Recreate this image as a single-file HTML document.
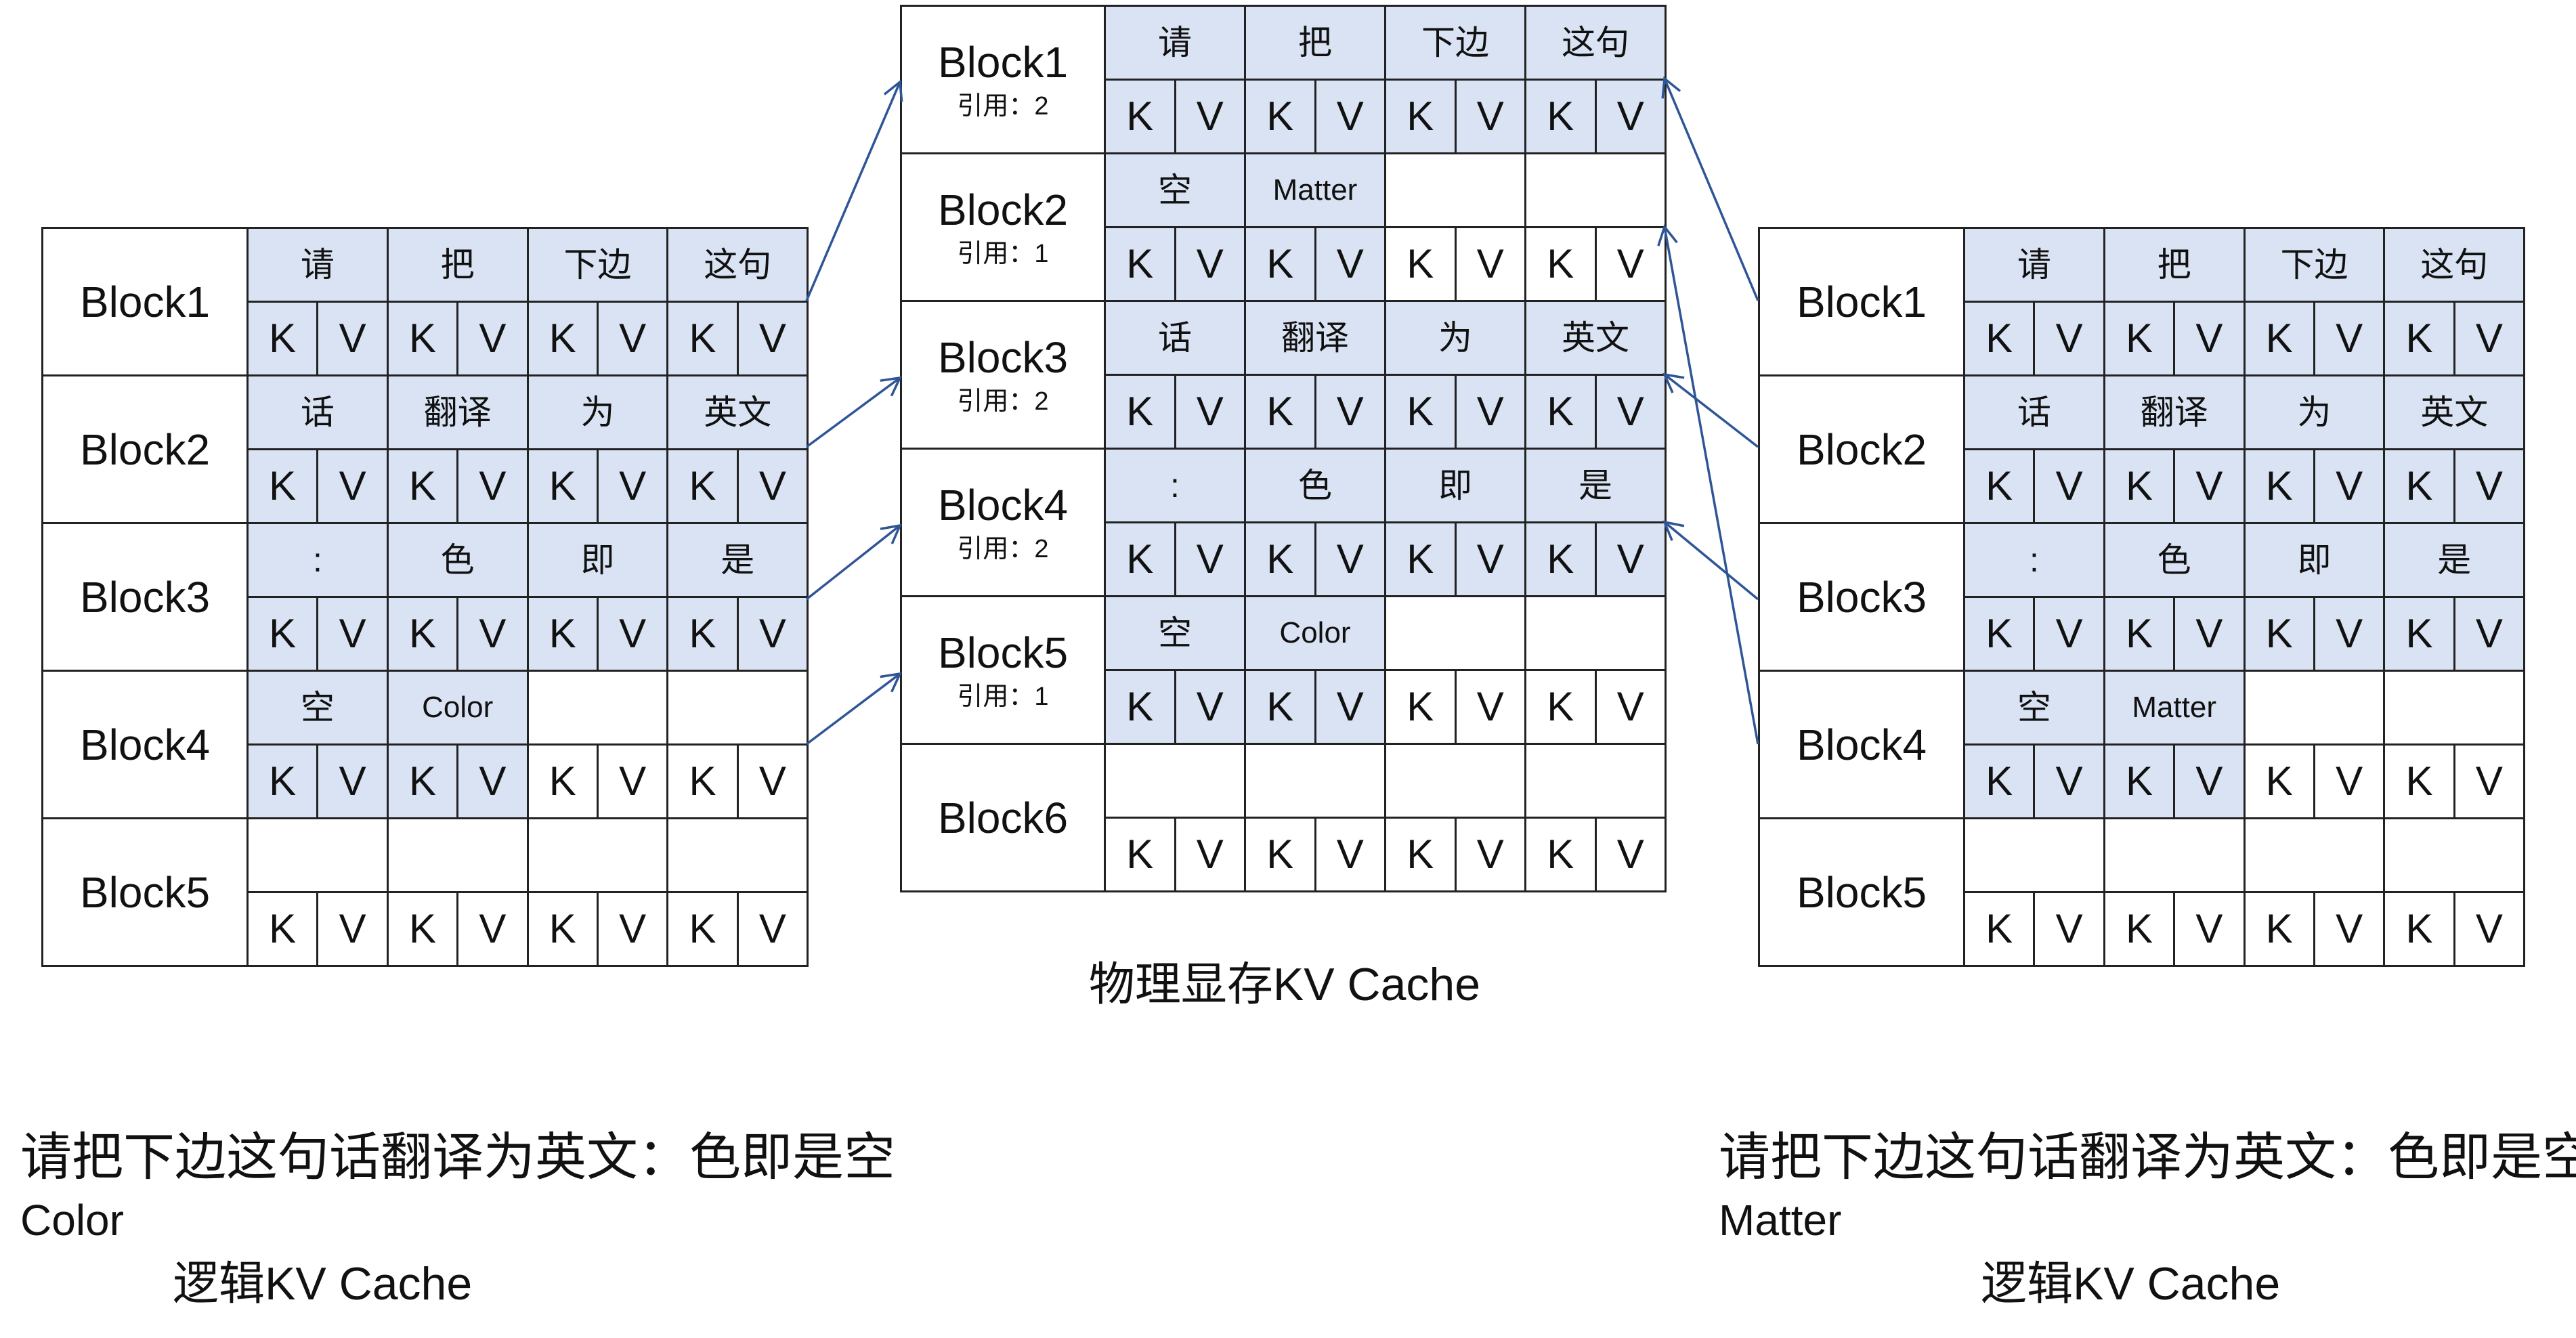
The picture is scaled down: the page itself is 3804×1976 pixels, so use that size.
<!DOCTYPE html>
<html><head><meta charset="utf-8"><style>
body{margin:0;width:3804px;height:1976px;background:#fff;position:relative;overflow:hidden;font-family:"Liberation Sans","Noto Sans CJK SC",sans-serif;color:#111}
table{position:absolute;border-collapse:collapse;table-layout:fixed}
td{border:3px solid #222;text-align:center;vertical-align:middle;padding:0;overflow:hidden;white-space:nowrap;line-height:1}
tr{height:109px}
.l{font-size:64px;background:#fff}
.l small{display:block;font-size:38px;margin-top:14px}
.t{font-size:50px}
.m{font-size:44px}
.k{font-size:60px}
.b{background:#dae3f3}
.tx{position:absolute;white-space:nowrap;line-height:1}
</style></head><body>

<table style="left:61px;top:335px;width:1130px">
<colgroup><col style="width:303px"><col span="8" style="width:103.4px"></colgroup>
<tr><td rowspan="2" class="l">Block1</td><td colspan="2" class="t b">请</td><td colspan="2" class="t b">把</td><td colspan="2" class="t b">下边</td><td colspan="2" class="t b">这句</td></tr>
<tr><td class="k b">K</td><td class="k b">V</td><td class="k b">K</td><td class="k b">V</td><td class="k b">K</td><td class="k b">V</td><td class="k b">K</td><td class="k b">V</td></tr>
<tr><td rowspan="2" class="l">Block2</td><td colspan="2" class="t b">话</td><td colspan="2" class="t b">翻译</td><td colspan="2" class="t b">为</td><td colspan="2" class="t b">英文</td></tr>
<tr><td class="k b">K</td><td class="k b">V</td><td class="k b">K</td><td class="k b">V</td><td class="k b">K</td><td class="k b">V</td><td class="k b">K</td><td class="k b">V</td></tr>
<tr><td rowspan="2" class="l">Block3</td><td colspan="2" class="t b">:</td><td colspan="2" class="t b">色</td><td colspan="2" class="t b">即</td><td colspan="2" class="t b">是</td></tr>
<tr><td class="k b">K</td><td class="k b">V</td><td class="k b">K</td><td class="k b">V</td><td class="k b">K</td><td class="k b">V</td><td class="k b">K</td><td class="k b">V</td></tr>
<tr><td rowspan="2" class="l">Block4</td><td colspan="2" class="t b">空</td><td colspan="2" class="m b">Color</td><td colspan="2"></td><td colspan="2"></td></tr>
<tr><td class="k b">K</td><td class="k b">V</td><td class="k b">K</td><td class="k b">V</td><td class="k">K</td><td class="k">V</td><td class="k">K</td><td class="k">V</td></tr>
<tr><td rowspan="2" class="l">Block5</td><td colspan="2"></td><td colspan="2"></td><td colspan="2"></td><td colspan="2"></td></tr>
<tr><td class="k">K</td><td class="k">V</td><td class="k">K</td><td class="k">V</td><td class="k">K</td><td class="k">V</td><td class="k">K</td><td class="k">V</td></tr>
</table>

<table style="left:1329px;top:7px;width:1129px">
<colgroup><col style="width:301px"><col span="8" style="width:103.5px"></colgroup>
<tr><td rowspan="2" class="l">Block1<small>引用：2</small></td><td colspan="2" class="t b">请</td><td colspan="2" class="t b">把</td><td colspan="2" class="t b">下边</td><td colspan="2" class="t b">这句</td></tr>
<tr><td class="k b">K</td><td class="k b">V</td><td class="k b">K</td><td class="k b">V</td><td class="k b">K</td><td class="k b">V</td><td class="k b">K</td><td class="k b">V</td></tr>
<tr><td rowspan="2" class="l">Block2<small>引用：1</small></td><td colspan="2" class="t b">空</td><td colspan="2" class="m b">Matter</td><td colspan="2"></td><td colspan="2"></td></tr>
<tr><td class="k b">K</td><td class="k b">V</td><td class="k b">K</td><td class="k b">V</td><td class="k">K</td><td class="k">V</td><td class="k">K</td><td class="k">V</td></tr>
<tr><td rowspan="2" class="l">Block3<small>引用：2</small></td><td colspan="2" class="t b">话</td><td colspan="2" class="t b">翻译</td><td colspan="2" class="t b">为</td><td colspan="2" class="t b">英文</td></tr>
<tr><td class="k b">K</td><td class="k b">V</td><td class="k b">K</td><td class="k b">V</td><td class="k b">K</td><td class="k b">V</td><td class="k b">K</td><td class="k b">V</td></tr>
<tr><td rowspan="2" class="l">Block4<small>引用：2</small></td><td colspan="2" class="t b">:</td><td colspan="2" class="t b">色</td><td colspan="2" class="t b">即</td><td colspan="2" class="t b">是</td></tr>
<tr><td class="k b">K</td><td class="k b">V</td><td class="k b">K</td><td class="k b">V</td><td class="k b">K</td><td class="k b">V</td><td class="k b">K</td><td class="k b">V</td></tr>
<tr><td rowspan="2" class="l">Block5<small>引用：1</small></td><td colspan="2" class="t b">空</td><td colspan="2" class="m b">Color</td><td colspan="2"></td><td colspan="2"></td></tr>
<tr><td class="k b">K</td><td class="k b">V</td><td class="k b">K</td><td class="k b">V</td><td class="k">K</td><td class="k">V</td><td class="k">K</td><td class="k">V</td></tr>
<tr><td rowspan="2" class="l">Block6</td><td colspan="2"></td><td colspan="2"></td><td colspan="2"></td><td colspan="2"></td></tr>
<tr><td class="k">K</td><td class="k">V</td><td class="k">K</td><td class="k">V</td><td class="k">K</td><td class="k">V</td><td class="k">K</td><td class="k">V</td></tr>
</table>

<table style="left:2596px;top:335px;width:1130px">
<colgroup><col style="width:303px"><col span="8" style="width:103.4px"></colgroup>
<tr><td rowspan="2" class="l">Block1</td><td colspan="2" class="t b">请</td><td colspan="2" class="t b">把</td><td colspan="2" class="t b">下边</td><td colspan="2" class="t b">这句</td></tr>
<tr><td class="k b">K</td><td class="k b">V</td><td class="k b">K</td><td class="k b">V</td><td class="k b">K</td><td class="k b">V</td><td class="k b">K</td><td class="k b">V</td></tr>
<tr><td rowspan="2" class="l">Block2</td><td colspan="2" class="t b">话</td><td colspan="2" class="t b">翻译</td><td colspan="2" class="t b">为</td><td colspan="2" class="t b">英文</td></tr>
<tr><td class="k b">K</td><td class="k b">V</td><td class="k b">K</td><td class="k b">V</td><td class="k b">K</td><td class="k b">V</td><td class="k b">K</td><td class="k b">V</td></tr>
<tr><td rowspan="2" class="l">Block3</td><td colspan="2" class="t b">:</td><td colspan="2" class="t b">色</td><td colspan="2" class="t b">即</td><td colspan="2" class="t b">是</td></tr>
<tr><td class="k b">K</td><td class="k b">V</td><td class="k b">K</td><td class="k b">V</td><td class="k b">K</td><td class="k b">V</td><td class="k b">K</td><td class="k b">V</td></tr>
<tr><td rowspan="2" class="l">Block4</td><td colspan="2" class="t b">空</td><td colspan="2" class="m b">Matter</td><td colspan="2"></td><td colspan="2"></td></tr>
<tr><td class="k b">K</td><td class="k b">V</td><td class="k b">K</td><td class="k b">V</td><td class="k">K</td><td class="k">V</td><td class="k">K</td><td class="k">V</td></tr>
<tr><td rowspan="2" class="l">Block5</td><td colspan="2"></td><td colspan="2"></td><td colspan="2"></td><td colspan="2"></td></tr>
<tr><td class="k">K</td><td class="k">V</td><td class="k">K</td><td class="k">V</td><td class="k">K</td><td class="k">V</td><td class="k">K</td><td class="k">V</td></tr>
</table>

<svg width="3804" height="1976" style="position:absolute;left:0;top:0">
<defs>
<marker id="h" markerWidth="36" markerHeight="36" refX="30" refY="18" orient="auto" markerUnits="userSpaceOnUse"><polyline points="4,4 30,18 4,32" fill="none" stroke="#2f5597" stroke-width="3.5"/></marker></defs>
<g stroke="#2f5597" stroke-width="3.5" fill="none" marker-end="url(#h)">
<line x1="1191" y1="444" x2="1329" y2="121"/>
<line x1="1191" y1="660" x2="1329" y2="558"/>
<line x1="1191" y1="885" x2="1329" y2="776"/>
<line x1="1191" y1="1099" x2="1329" y2="995"/>
<line x1="2596" y1="444" x2="2458" y2="116"/>
<line x1="2596" y1="660" x2="2458" y2="553"/>
<line x1="2596" y1="885" x2="2458" y2="771"/>
<line x1="2596" y1="1099" x2="2458" y2="335"/>
</g></svg>

<div class="tx" style="left:1597px;top:1420px;font-size:68px;width:600px;text-align:center">物理显存KV Cache</div>
<div class="tx" style="left:30px;top:1672px;font-size:76px">请把下边这句话翻译为英文：色即是空</div>
<div class="tx" style="left:30px;top:1770px;font-size:64px">Color</div>
<div class="tx" style="left:255px;top:1862px;font-size:68px">逻辑KV Cache</div>
<div class="tx" style="left:2538px;top:1672px;font-size:76px">请把下边这句话翻译为英文：色即是空</div>
<div class="tx" style="left:2538px;top:1770px;font-size:64px">Matter</div>
<div class="tx" style="left:2925px;top:1862px;font-size:68px">逻辑KV Cache</div>
</body></html>
